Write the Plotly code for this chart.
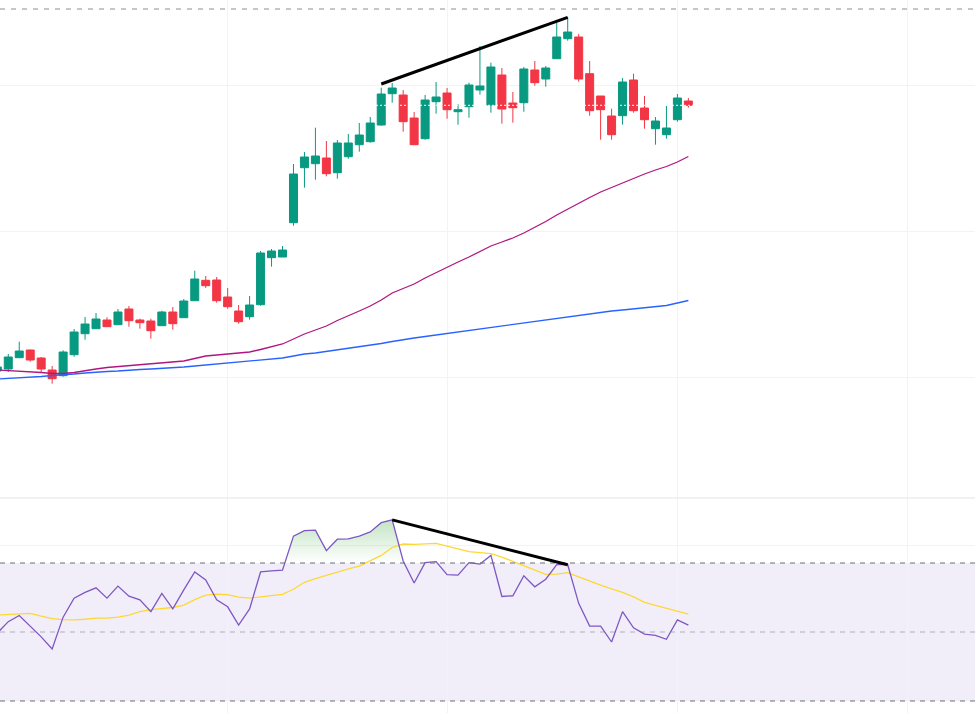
import plotly.graph_objects as go

# ---------------- data ----------------
bar_index = list(range(64))

open_ = [22.9, 23.1, 24.23, 25.0, 24.2, 23.0, 22.43, 24.53, 26.63, 27.13,
         28.0, 27.53, 29.1, 28.0, 27.9, 27.43, 28.8, 28.23, 29.93, 31.97,
         32.0, 30.3, 28.9, 28.33, 29.53, 34.23, 34.3, 37.73, 43.23, 43.63,
         44.2, 42.73, 44.33, 45.53, 45.83, 47.5, 50.63, 50.5, 48.2, 46.13,
         49.83, 50.7, 48.83, 49.33, 51.0, 49.5, 52.5, 49.7, 49.73, 53.0,
         52.1, 54.13, 56.13, 56.3, 52.63, 50.4, 48.4, 48.43, 52.0, 49.2,
         47.13, 46.53, 48.03, 49.9]
high = [23.5, 24.6, 25.83, 25.05, 24.3, 23.4, 24.97, 27.1, 28.3, 28.7,
        28.27, 29.1, 29.4, 28.13, 28.13, 28.93, 29.3, 30.1, 32.93, 32.4,
        32.3, 31.2, 29.5, 30.4, 34.9, 35.1, 35.4, 43.6, 44.8, 47.23,
        45.9, 46.0, 46.6, 47.7, 48.3, 51.23, 51.7, 51.0, 48.8, 50.5,
        51.8, 51.2, 49.57, 51.73, 55.4, 53.73, 53.2, 50.8, 53.3, 53.9,
        53.4, 57.73, 58.27, 56.6, 53.9, 50.4, 49.13, 52.2, 52.63, 50.4,
        48.3, 49.4, 50.6, 50.2]
low = [22.7, 22.8, 24.2, 23.83, 22.77, 21.63, 22.33, 24.33, 26.03, 27.1,
       27.3, 27.5, 27.33, 27.13, 26.13, 27.4, 27.03, 28.2, 29.9, 31.2,
       29.73, 29.13, 27.63, 28.03, 29.43, 33.33, 34.3, 37.43, 41.23, 42.03,
       42.37, 42.13, 44.13, 44.83, 45.73, 47.43, 49.73, 46.83, 45.5, 46.03,
       48.63, 48.13, 47.53, 48.23, 50.53, 48.73, 47.63, 47.73, 48.83, 51.43,
       51.33, 54.1, 55.93, 51.83, 48.43, 46.03, 46.03, 47.53, 48.73, 47.13,
       45.53, 46.13, 47.83, 49.23]
close = [23.3, 24.3, 24.9, 24.0, 23.1, 22.13, 24.8, 26.8, 27.6, 28.1,
         27.33, 28.8, 27.93, 27.73, 26.93, 28.8, 27.63, 29.9, 32.1, 31.43,
         29.93, 29.33, 27.83, 29.5, 34.7, 34.9, 35.0, 42.6, 44.3, 44.4,
         42.63, 45.7, 45.7, 46.5, 47.7, 50.6, 51.2, 47.83, 45.53, 50.0,
         50.3, 49.03, 49.03, 51.5, 51.4, 53.3, 49.1, 49.23, 53.1, 51.73,
         53.2, 56.3, 56.8, 52.1, 48.93, 49.03, 46.53, 51.8, 48.93, 48.03,
         47.9, 47.2, 50.2, 49.47]

ma_fast = [23.0, 22.95, 22.9, 22.85, 22.75, 22.65, 22.65, 22.75, 22.95, 23.1,
           23.25, 23.35, 23.4, 23.5, 23.6, 23.7, 23.8, 23.9, 24.15, 24.4,
           24.5, 24.6, 24.65, 24.8, 25.05, 25.3, 25.6, 26.1, 26.6, 27.0,
           27.4, 27.95, 28.4, 28.9, 29.4, 30.0, 30.7, 31.15, 31.6, 32.2,
           32.75, 33.3, 33.8, 34.3, 34.85, 35.4, 35.8, 36.2, 36.7, 37.25,
           37.85, 38.5, 39.1, 39.65, 40.25, 40.8, 41.25, 41.75, 42.2, 42.6,
           43.0, 43.35, 43.8, 44.35]
ma_slow = [22.1, 22.15, 22.2, 22.25, 22.35, 22.45, 22.5, 22.6, 22.7, 22.8,
           22.85, 22.9, 23.0, 23.05, 23.1, 23.15, 23.2, 23.3, 23.4, 23.5,
           23.6, 23.7, 23.8, 23.9, 24.0, 24.1, 24.2, 24.4, 24.6, 24.7,
           24.85, 25.0, 25.15, 25.3, 25.45, 25.65, 25.85, 26.05, 26.2, 26.35,
           26.5, 26.65, 26.8, 26.95, 27.1, 27.3, 27.45, 27.6, 27.75, 27.9,
           28.05, 28.2, 28.35, 28.5, 28.65, 28.8, 28.9, 29.0, 29.1, 29.2,
           29.3, 29.45, 29.7, 29.95]

rsi = [49.7, 53.0, 54.8, 51.7, 48.6, 45.1, 54.3, 59.8, 61.5, 62.8,
       59.8, 63.3, 60.4, 59.3, 55.9, 61.2, 56.7, 62.2, 67.4, 65.1,
       59.3, 57.3, 52.0, 56.7, 67.4, 67.7, 67.9, 77.8, 79.4, 79.5,
       73.6, 76.9, 77.0, 77.8, 79.0, 81.7, 82.5, 70.6, 64.2, 70.1,
       70.4, 66.6, 66.5, 70.1, 69.7, 72.2, 60.3, 60.5, 66.3, 63.1,
       65.3, 69.5, 69.5, 58.3, 51.7, 51.7, 47.1, 55.9, 51.2, 49.4,
       49.0, 47.9, 53.5, 52.0]
rsi_ma = [54.9, 55.1, 55.3, 55.4, 54.6, 53.9, 53.6, 53.5, 53.7, 54.0,
          54.0, 54.3, 54.9, 55.9, 56.5, 56.9, 57.1, 57.8, 59.4, 60.7,
          61.0, 60.8, 60.1, 59.8, 60.2, 60.6, 60.9, 62.4, 64.4, 65.5,
          66.5, 67.5, 68.3, 69.1, 70.6, 72.2, 74.5, 75.5, 75.4, 75.6,
          75.7, 74.9, 74.0, 73.3, 73.0, 72.7, 71.7, 70.4, 69.3, 68.0,
          66.7, 66.8, 67.2, 66.0, 64.7, 63.6, 62.5, 61.5, 60.2, 58.6,
          57.7, 56.9, 56.1, 55.2]

rsi_upper, rsi_mid, rsi_lower = 70, 50, 30
hline_price = 59.1          # dashed horizontal line drawing
last_price = 49.47          # dotted price line
div_price = [(35, 51.6), (52, 58.27)]    # divergence on price
div_rsi = [(36, 82.5), (52, 69.5)]       # divergence on RSI
month_marks = [21, 41, 62, 83]

# ---------------- styling ----------------
UP, DOWN = "#089981", "#F23645"
GRID = "#F0F3FA"
X_RANGE = [0.246, 89.13]
P_RANGE = [10.3, 60.0]
R_RANGE = [26.52, 88.84]
LW = 1.3

fig = go.Figure()

# moving averages
fig.add_trace(go.Scatter(x=bar_index, y=ma_slow, mode="lines",
                         line=dict(color="#2962FF", width=LW), xaxis="x", yaxis="y",
                         hoverinfo="skip"))
fig.add_trace(go.Scatter(x=bar_index, y=ma_fast, mode="lines",
                         line=dict(color="#B0167F", width=LW), xaxis="x", yaxis="y",
                         hoverinfo="skip"))

# candles
fig.add_trace(go.Candlestick(
    x=bar_index, open=open_, high=high, low=low, close=close,
    increasing=dict(line=dict(color=UP, width=1), fillcolor=UP),
    decreasing=dict(line=dict(color=DOWN, width=1), fillcolor=DOWN),
    whiskerwidth=0, xaxis="x", yaxis="y"))

# RSI overbought gradient fill (between 70 and RSI where RSI > 70)
fx, fy = [], []
for i, r in enumerate(rsi):
    if i > 0:
        r0 = rsi[i - 1]
        if (r0 - rsi_upper) * (r - rsi_upper) < 0:
            t = (rsi_upper - r0) / (r - r0)
            fx.append(i - 1 + t)
            fy.append(rsi_upper)
    fx.append(i)
    fy.append(max(r, rsi_upper))
fig.add_trace(go.Scatter(x=fx, y=[rsi_upper] * len(fx), mode="lines",
                         line=dict(width=0), xaxis="x2", yaxis="y2", hoverinfo="skip"))
fig.add_trace(go.Scatter(x=fx, y=fy, mode="lines", line=dict(width=0),
                         fill="tonexty",
                         fillgradient=dict(type="vertical", start=rsi_upper, stop=83,
                                           colorscale=[[0, "rgba(76,175,80,0)"],
                                                       [1, "rgba(76,175,80,0.35)"]]),
                         xaxis="x2", yaxis="y2", hoverinfo="skip"))

# RSI + its MA
fig.add_trace(go.Scatter(x=bar_index, y=rsi_ma, mode="lines",
                         line=dict(color="#FDD835", width=LW), xaxis="x2", yaxis="y2",
                         hoverinfo="skip"))
fig.add_trace(go.Scatter(x=bar_index, y=rsi, mode="lines",
                         line=dict(color="#7E57C2", width=LW), xaxis="x2", yaxis="y2",
                         hoverinfo="skip"))

shapes = []
# RSI band background
shapes.append(dict(type="rect", xref="x2 domain", yref="y2", x0=0, x1=1,
                   y0=rsi_lower, y1=rsi_upper, fillcolor="rgba(126,87,194,0.1)",
                   line=dict(width=0), layer="below"))
for lvl, col, dash in [(rsi_upper, "#6A6D78", "5px,5px"),
                       (rsi_mid, "rgba(120,123,134,0.55)", "5px,5px"),
                       (rsi_lower, "#6A6D78", "5px,5px")]:
    shapes.append(dict(type="line", xref="x2 domain", yref="y2", x0=0, x1=1,
                       y0=lvl, y1=lvl, line=dict(color=col, width=1, dash=dash)))
# pane separator
shapes.append(dict(type="line", xref="paper", yref="paper", x0=0, x1=1,
                   y0=1 - 498 / 713, y1=1 - 498 / 713,
                   line=dict(color="#E0E3EB", width=1)))
# horizontal dashed line drawing on price
shapes.append(dict(type="line", xref="x domain", yref="y", x0=0, x1=1,
                   y0=hline_price, y1=hline_price,
                   line=dict(color="#8A8D96", width=1, dash="5px,6px")))
# dotted last price line
shapes.append(dict(type="line", xref="x domain", yref="y", x0=0, x1=1,
                   y0=last_price, y1=last_price,
                   line=dict(color="#FFFFFF", width=1, dash="2px,2px")))
# divergence lines
shapes.append(dict(type="line", xref="x", yref="y",
                   x0=div_price[0][0], y0=div_price[0][1],
                   x1=div_price[1][0], y1=div_price[1][1],
                   line=dict(color="#000000", width=3)))
shapes.append(dict(type="line", xref="x2", yref="y2",
                   x0=div_rsi[0][0], y0=div_rsi[0][1],
                   x1=div_rsi[1][0], y1=div_rsi[1][1],
                   line=dict(color="#000000", width=3)))

axis_common = dict(showticklabels=False, zeroline=False, showline=False,
                   ticks="", gridcolor=GRID, gridwidth=1)

fig.update_layout(
    width=975, height=713,
    margin=dict(l=0, r=0, t=0, b=0),
    paper_bgcolor="#FFFFFF", plot_bgcolor="#FFFFFF",
    showlegend=False,
    boxgap=0.27, boxgroupgap=0,
    xaxis=dict(domain=[0, 1], range=X_RANGE, anchor="y",
               tickmode="array", tickvals=month_marks,
               rangeslider=dict(visible=False), **axis_common),
    yaxis=dict(domain=[1 - 497 / 713, 1], range=P_RANGE, anchor="x",
               tickmode="array", tickvals=[22.3, 36.9, 51.5], **axis_common),
    xaxis2=dict(domain=[0, 1], range=X_RANGE, anchor="y2", matches="x",
                tickmode="array", tickvals=month_marks, **axis_common),
    yaxis2=dict(domain=[0, 1 - 498 / 713], range=R_RANGE, anchor="x2",
                tickmode="array", tickvals=[75], **axis_common),
    shapes=shapes,
)

fig.write_html("out.html")
